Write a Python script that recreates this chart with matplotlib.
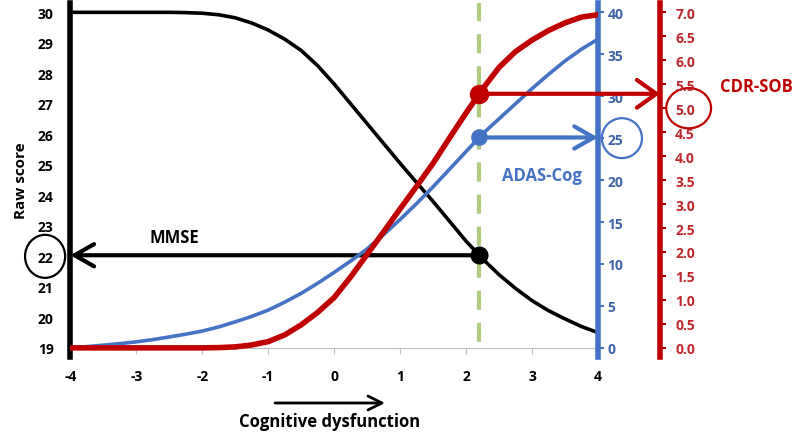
import numpy as np
import matplotlib
matplotlib.use("Agg")
import matplotlib.pyplot as plt
from matplotlib.patches import Ellipse
from matplotlib.transforms import blended_transform_factory

# Données (dysfonction cognitive de -4 à 4, pas de 0.25)
dysfonction = [-4, -3.75, -3.5, -3.25, -3, -2.75, -2.5, -2.25, -2, -1.75, -1.5, -1.25, -1,
               -0.75, -0.5, -0.25, 0, 0.25, 0.5, 0.75, 1, 1.25, 1.5, 1.75, 2,
               2.25, 2.5, 2.75, 3, 3.25, 3.5, 3.75, 4]
mmse = [30.0, 30.0, 30.0, 30.0, 30.0, 30.0, 30.0, 29.99, 29.97, 29.92, 29.82, 29.65, 29.42,
        29.12, 28.75, 28.25, 27.65, 27.0, 26.35, 25.7, 25.05, 24.42, 23.8, 23.15, 22.5,
        21.92, 21.4, 20.95, 20.55, 20.22, 19.95, 19.7, 19.5]
adas_cog = [0.0, 0.15, 0.32, 0.5, 0.72, 0.98, 1.3, 1.63, 2.0, 2.5, 3.1, 3.75, 4.5,
            5.45, 6.5, 7.7, 9.0, 10.35, 11.8, 13.5, 15.3, 17.2, 19.2, 21.3, 23.4,
            25.5, 27.3, 29.1, 30.9, 32.6, 34.2, 35.6, 36.8]
cdr_sob = [0.0, 0.0, 0.0, 0.0, 0.0, 0.0, 0.0, 0.0, 0.0, 0.005, 0.02, 0.06, 0.13,
           0.27, 0.48, 0.74, 1.05, 1.48, 1.95, 2.42, 2.9, 3.37, 3.85, 4.38, 4.9,
           5.4, 5.85, 6.18, 6.42, 6.62, 6.78, 6.9, 6.95]

# Point de lecture et valeurs entourées sur les axes
x_lecture = 2.2
mmse_entoure = 22
adas_entoure = 25
cdr_entoure = 5.0

x_ticks = list(range(-4, 5))
mmse_ticks = list(range(19, 31))
adas_ticks = list(range(0, 41, 5))
cdr_ticks = [i * 0.5 for i in range(15)]

# Couleurs
noir = "black"
bleu = "#4472C4"
bleu_txt = "#3F63A8"
rouge = "#C00000"
rouge_txt = "#C0272D"
vert = "#B0CC80"

plt.rcParams['font.family'] = ['Open Sans', 'DejaVu Sans']
plt.rcParams['font.weight'] = 'bold'
plt.rcParams['axes.labelweight'] = 'bold'
plt.rcParams['axes.unicode_minus'] = False

fig = plt.figure(figsize=(8, 4.39), dpi=100)
ax = fig.add_axes([0.088, 0.1845, 0.6594, 0.806])

# Échelles : les trois axes partagent la même hauteur
y_bas, y_haut = 18.7, 30.3
ax.set_xlim(-4, 4)
ax.set_ylim(y_bas, y_haut)

ax2 = ax.twinx()
ax2.set_ylim((y_bas - 19) * 40 / 11, (y_haut - 19) * 40 / 11)
ax3 = ax.twinx()
ax3.set_ylim((y_bas - 19) * 7 / 11, (y_haut - 19) * 7 / 11)

# Ligne verticale en pointillés verts
ax.axvline(x_lecture, ymin=(19.2 - y_bas) / (y_haut - y_bas), ymax=1,
           color=vert, lw=3, dashes=(4.6, 3.1), zorder=1)

# Courbes
ax.plot(dysfonction, mmse, color=noir, lw=2.6, solid_joinstyle='round', zorder=3)
ax2.plot(dysfonction, adas_cog, color=bleu, lw=2.6, solid_joinstyle='round', zorder=3)
ax3.plot(dysfonction, cdr_sob, color=rouge, lw=4, solid_joinstyle='round', zorder=3)

# Points de lecture
mmse_pt = np.interp(x_lecture, dysfonction, mmse)
adas_pt = np.interp(x_lecture, dysfonction, adas_cog)
cdr_pt = np.interp(x_lecture, dysfonction, cdr_sob)
ax.plot(x_lecture, mmse_pt, 'o', color=noir, ms=12, zorder=5)
ax2.plot(x_lecture, adas_pt, 'o', color=bleu, ms=11, zorder=5)
ax3.plot(x_lecture, cdr_pt, 'o', color=rouge, ms=13, zorder=5)

# Flèches horizontales vers les axes
style = '->,head_length=1.4,head_width=0.8'
ax.annotate('', xy=(-4, mmse_pt), xytext=(x_lecture, mmse_pt),
            arrowprops=dict(arrowstyle=style, lw=3, color=noir, shrinkA=0, shrinkB=0),
            annotation_clip=False)
ax2.annotate('', xy=(4, adas_pt), xytext=(x_lecture, adas_pt),
             arrowprops=dict(arrowstyle=style, lw=3, color=bleu, shrinkA=0, shrinkB=0),
             annotation_clip=False)
pos_rouge = 1.1175
ax3.annotate('', xy=(pos_rouge, cdr_pt), xycoords=('axes fraction', 'data'),
             xytext=(x_lecture, cdr_pt), textcoords='data',
             arrowprops=dict(arrowstyle='->,head_length=1.4,head_width=1.0', lw=3,
                             color=rouge, shrinkA=0, shrinkB=0),
             annotation_clip=False)

# Étiquettes des courbes
ax.text(-2.42, 22.65, "MMSE", fontsize=12, ha='center', va='center', color=noir)
ax2.text(3.15, 20.6, "ADAS-Cog", fontsize=12, ha='center', va='center', color=bleu)
ax3.text(1.301, 5.46, "CDR-SOB", fontsize=12, ha='center', va='center', color=rouge,
         transform=blended_transform_factory(ax3.transAxes, ax3.transData))

# Cercles autour des valeurs lues
ax.add_patch(Ellipse((-0.048, mmse_entoure), 0.076, 1.41, fill=False, ec=noir, lw=1.6,
                     transform=blended_transform_factory(ax.transAxes, ax.transData), clip_on=False))
ax2.add_patch(Ellipse((1.0455, adas_entoure), 0.076, 4.76, fill=False, ec=bleu, lw=1.6,
                      transform=blended_transform_factory(ax2.transAxes, ax2.transData), clip_on=False))
ax3.add_patch(Ellipse((1.172, cdr_entoure), 0.085, 0.84, fill=False, ec=rouge, lw=1.6,
                      transform=blended_transform_factory(ax3.transAxes, ax3.transData), clip_on=False))

# Axe principal (score brut)
for s in ['top', 'right']:
    ax.spines[s].set_visible(False)
ax.spines['left'].set_linewidth(4)
ax.spines['left'].set_color(noir)
ax.spines['bottom'].set_position(('data', 19))
ax.spines['bottom'].set_color('#BFBFBF')
ax.spines['bottom'].set_linewidth(0.8)
ax.set_xticks(x_ticks)
ax.set_yticks(mmse_ticks)
ax.tick_params(axis='x', length=4, color='#BFBFBF', pad=11, labelsize=10)
ax.tick_params(axis='y', length=0, pad=12, labelsize=10)
ax.set_ylabel("Raw score", fontsize=11, fontweight='bold')
ax.yaxis.set_label_coords(-0.08, 0.5)

# Axe ADAS-Cog (bleu)
for s in ['top', 'left', 'bottom']:
    ax2.spines[s].set_visible(False)
ax2.spines['right'].set_color(bleu)
ax2.spines['right'].set_linewidth(4)
ax2.set_yticks(adas_ticks)
ax2.tick_params(axis='y', colors=bleu, labelcolor=bleu_txt, length=4, width=1.5, pad=3, labelsize=10)

# Axe CDR-SOB (rouge)
for s in ['top', 'left', 'bottom']:
    ax3.spines[s].set_visible(False)
ax3.spines['right'].set_position(('axes', pos_rouge))
ax3.spines['right'].set_color(rouge)
ax3.spines['right'].set_linewidth(4)
ax3.set_yticks(cdr_ticks)
ax3.set_yticklabels([f"{v:.1f}" for v in cdr_ticks])
ax3.tick_params(axis='y', colors=rouge, labelcolor=rouge_txt, length=4, width=1.5, pad=7, labelsize=10)

# Légende de l'axe des x avec sa flèche
fig.text(330 / 800, 1 - 422 / 439, "Cognitive dysfunction", fontsize=12, ha='center', va='center')
ax.annotate('', xy=(385 / 800, 1 - 404 / 439), xycoords='figure fraction',
            xytext=(275 / 800, 1 - 404 / 439), textcoords='figure fraction',
            arrowprops=dict(arrowstyle='->,head_length=1.0,head_width=0.5', lw=2, color=noir,
                            shrinkA=0, shrinkB=0),
            annotation_clip=False)

fig.savefig("out.png", dpi=100)
